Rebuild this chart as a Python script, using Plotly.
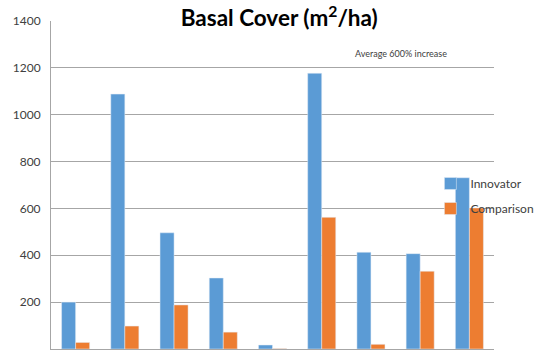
import plotly.graph_objects as go

categories = ["1", "2", "3", "4", "5", "6", "7", "8", "9"]
innovator = [200, 1088, 496, 303, 17, 1177, 413, 407, 731]
comparison = [28, 98, 188, 72, 2, 562, 20, 332, 602]
y_ticks = [0, 200, 400, 600, 800, 1000, 1200, 1400]

fig = go.Figure()
fig.add_trace(go.Bar(x=categories, y=innovator, name="Innovator", legendgroup="a",
                     marker=dict(color="#5B9BD5")))
fig.add_trace(go.Bar(x=categories, y=comparison, name="Comparison", legendgroup="b",
                     marker=dict(color="#ED7D31")))

fig.update_layout(
    width=536, height=355,
    margin=dict(l=51, r=42, t=21, b=6, autoexpand=False),
    paper_bgcolor="white", plot_bgcolor="white",
    barmode="group", bargap=0.43, bargroupgap=0,
    font=dict(family="Lato, Open Sans, sans-serif", color="#404040"),
    title=dict(text="<b>Basal Cover (m<sup>2</sup>/ha)</b>", x=0.521, xanchor="center",
               y=0.949, yref="container", yanchor="middle",
               font=dict(size=22.5, color="black")),
    showlegend=True,
    legend=dict(x=0.803, y=0.524, xref="container", yref="container",
                xanchor="left", yanchor="top",
                bgcolor="rgba(0,0,0,0)", font=dict(size=12, color="#404040"),
                itemwidth=30, tracegroupgap=6, traceorder="grouped"),
    xaxis=dict(showticklabels=False, showgrid=False, showline=True,
               linecolor="#a6a6a6", linewidth=1, ticks="", automargin=False),
    yaxis=dict(range=[0, 1400], tickvals=y_ticks, showgrid=True,
               gridcolor="#a6a6a6", gridwidth=1, showline=True,
               linecolor="#a6a6a6", linewidth=1, zeroline=False, automargin=False,
               tickfont=dict(size=12, color="#404040"), ticks="", ticklen=0,
               ticklabelstandoff=7),
    annotations=[dict(text="Average 600% increase", x=0.79, y=0.902,
                      xref="paper", yref="paper", xanchor="center", yanchor="middle",
                      showarrow=False, font=dict(size=9, color="#404040"))],
)

fig.write_html("out.html", config={"responsive": False, "displayModeBar": False},
               post_script="document.body.style.margin='0';document.body.style.overflow='hidden';")
